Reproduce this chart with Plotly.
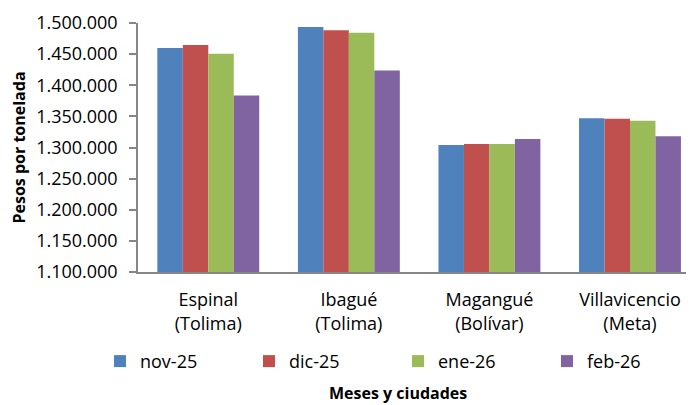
import plotly.graph_objects as go

categories = ["Espinal<br>(Tolima)", "Ibagué<br>(Tolima)", "Magangué<br>(Bolívar)", "Villavicencio<br>(Meta)"]
series_names = ["nov-25", "dic-25", "ene-26", "feb-26"]
nov_25 = [1460000, 1493700, 1304000, 1347000]
dic_25 = [1464500, 1488400, 1305600, 1346000]
ene_26 = [1450700, 1484200, 1305600, 1342800]
feb_26 = [1383700, 1423600, 1313600, 1317900]
y_ticks = [1100000, 1150000, 1200000, 1250000, 1300000, 1350000, 1400000, 1450000, 1500000]
y_tick_labels = ["1.100.000", "1.150.000", "1.200.000", "1.250.000", "1.300.000",
                 "1.350.000", "1.400.000", "1.450.000", "1.500.000"]

colors = ["#4F81BD", "#C0504D", "#9BBB59", "#8064A2"]
series_values = [nov_25, dic_25, ene_26, feb_26]

# page body has an 8px default margin; work in reference pixels minus that offset
OFF = 8
W, H = 694 - OFF, 405 - OFF
L = 138 - OFF
T = 22.5 - OFF
B = H - (272.3 - OFF)
R = 0
PW, PH = W - L - R, H - T - B

def px_x(px):
    return (px - OFF - L) / PW

def px_y(py):
    return (H - B - (py - OFF)) / PH

cat_px = 140.57
x_end = -0.5 + PW / cat_px

FONT = "'Open Sans', Lato, sans-serif"
FS = 18
TFS = 16

fig = go.Figure()
for name, vals, col in zip(series_names, series_values, colors):
    fig.add_trace(go.Bar(
        x=categories, y=vals, name=name,
        marker=dict(color=col, line=dict(width=0)),
    ))

fig.update_layout(
    width=W, height=H,
    margin=dict(l=L, r=R, t=T, b=B, pad=0, autoexpand=False),
    paper_bgcolor="white", plot_bgcolor="white",
    barmode="group", bargap=0.275, bargroupgap=0,
    font=dict(family=FONT, size=FS, color="#000000"),
    showlegend=True,
    legend=dict(
        orientation="h", x=px_x(100), xanchor="left", y=px_y(362), yanchor="middle",
        font=dict(family=FONT, size=FS, color="#000000"),
        entrywidth=104, entrywidthmode="pixels",
        bgcolor="rgba(0,0,0,0)", itemclick=False, traceorder="normal",
    ),
    xaxis=dict(
        type="category", range=[-0.5, x_end],
        showline=True, linecolor="#868686", linewidth=1.5,
        ticks="", showgrid=False, zeroline=False,
        tickfont=dict(family=FONT, size=FS, color="#000000"),
        ticklabelstandoff=11,
    ),
    yaxis=dict(
        range=[1100000, 1500000],
        tickvals=y_ticks, ticktext=y_tick_labels,
        showline=True, linecolor="#868686", linewidth=1.5,
        ticks="outside", ticklen=7, tickcolor="#868686", tickwidth=1.5,
        showgrid=False, zeroline=False,
        tickfont=dict(family=FONT, size=FS, color="#000000"),
        ticklabelstandoff=8,
        title=dict(text="<b>Pesos por tonelada</b>", font=dict(family=FONT, size=TFS, color="#000000"),
                   standoff=9),
    ),
    annotations=[dict(
        text="<b>Meses y ciudades</b>", x=px_x(398), y=px_y(394),
        xref="paper", yref="paper", xanchor="center", yanchor="middle",
        showarrow=False, font=dict(family=FONT, size=TFS, color="#000000"),
    )],
)

fig.write_html("out.html")
